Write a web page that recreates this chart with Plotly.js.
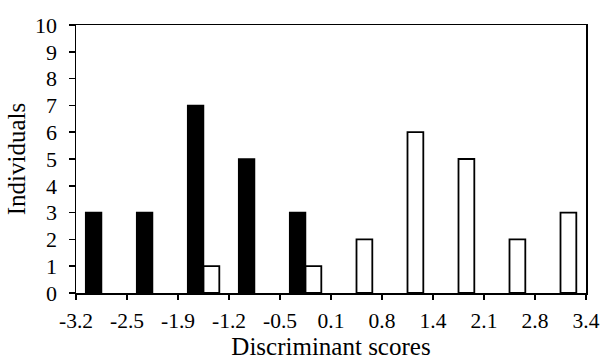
<!DOCTYPE html>
<html>
<head>
<meta charset="utf-8">
<script src="https://cdn.plot.ly/plotly-3.0.1.min.js"></script>
<style>html,body{margin:0;padding:0;background:#fff;}#chart{width:604px;height:360px;}</style>
</head>
<body>
<div id="chart"></div>
<script>
// Ten score intervals (categories), bounded by the tick labels below
var categories = [0, 1, 2, 3, 4, 5, 6, 7, 8, 9];
var groupA = [3, 3, 7, 5, 3, 0, 0, 0, 0, 0];   // black bars
var groupB = [0, 0, 1, 0, 1, 2, 6, 5, 2, 3];   // white bars
var boundaryLabels = ['-3.2', '-2.5', '-1.9', '-1.2', '-0.5', '0.1', '0.8', '1.4', '2.1', '2.8', '3.4'];
var boundaryPos = boundaryLabels.map(function (_, i) { return i - 0.5; });

// empty intervals draw no bar (no outline on the baseline)
function noZero(arr) { return arr.map(function (v) { return v === 0 ? null : v; }); }

var font = 'Liberation Serif, Times New Roman, serif';

var traces = [
  { type: 'bar', x: categories, y: noZero(groupA), marker: { color: '#000', line: { color: '#000', width: 1.5 } }, hoverinfo: 'y' },
  { type: 'bar', x: categories, y: noZero(groupB), marker: { color: '#fff', line: { color: '#000', width: 1.8 } }, hoverinfo: 'y' }
];

var layout = {
  width: 604, height: 360,
  margin: { l: 76, r: 18, t: 25, b: 67 },
  paper_bgcolor: '#fff', plot_bgcolor: '#fff',
  showlegend: false,
  barmode: 'group', bargap: 0.38, bargroupgap: 0,
  font: { family: font, color: '#000', size: 22 },
  xaxis: {
    range: [-0.5, 9.5], tickmode: 'array', tickvals: boundaryPos, ticktext: boundaryLabels,
    ticks: 'outside', ticklen: 5, tickwidth: 1.5, tickcolor: '#000',
    showline: true, linecolor: '#000', linewidth: 1.5, mirror: true,
    showgrid: false, zeroline: false,
    tickfont: { family: font, size: 21.5, color: '#000' },
    ticklabelstandoff: 3,
    title: { text: 'Discriminant scores', font: { family: font, size: 25, color: '#000' }, standoff: 0 }
  },
  xaxis2: {
    overlaying: 'x', anchor: 'y', side: 'bottom', range: [-0.5, 9.5],
    tickmode: 'array', tickvals: boundaryPos, showticklabels: false,
    ticks: 'inside', ticklen: 5, tickwidth: 1.5, tickcolor: '#000',
    showline: false, showgrid: false, zeroline: false
  },
  yaxis: {
    range: [0, 10], dtick: 1, tick0: 0,
    ticks: 'outside', ticklen: 6, tickwidth: 1.5, tickcolor: '#000',
    showline: true, linecolor: '#000', linewidth: 1.5, mirror: true,
    showgrid: false, zeroline: false,
    tickfont: { family: font, size: 22, color: '#000' },
    ticklabelstandoff: 7,
    title: { text: 'Individuals', font: { family: font, size: 25, color: '#000' }, standoff: 2 }
  }
};

Plotly.newPlot('chart', traces, layout, { staticPlot: true, displayModeBar: false });
</script>
</body>
</html>
